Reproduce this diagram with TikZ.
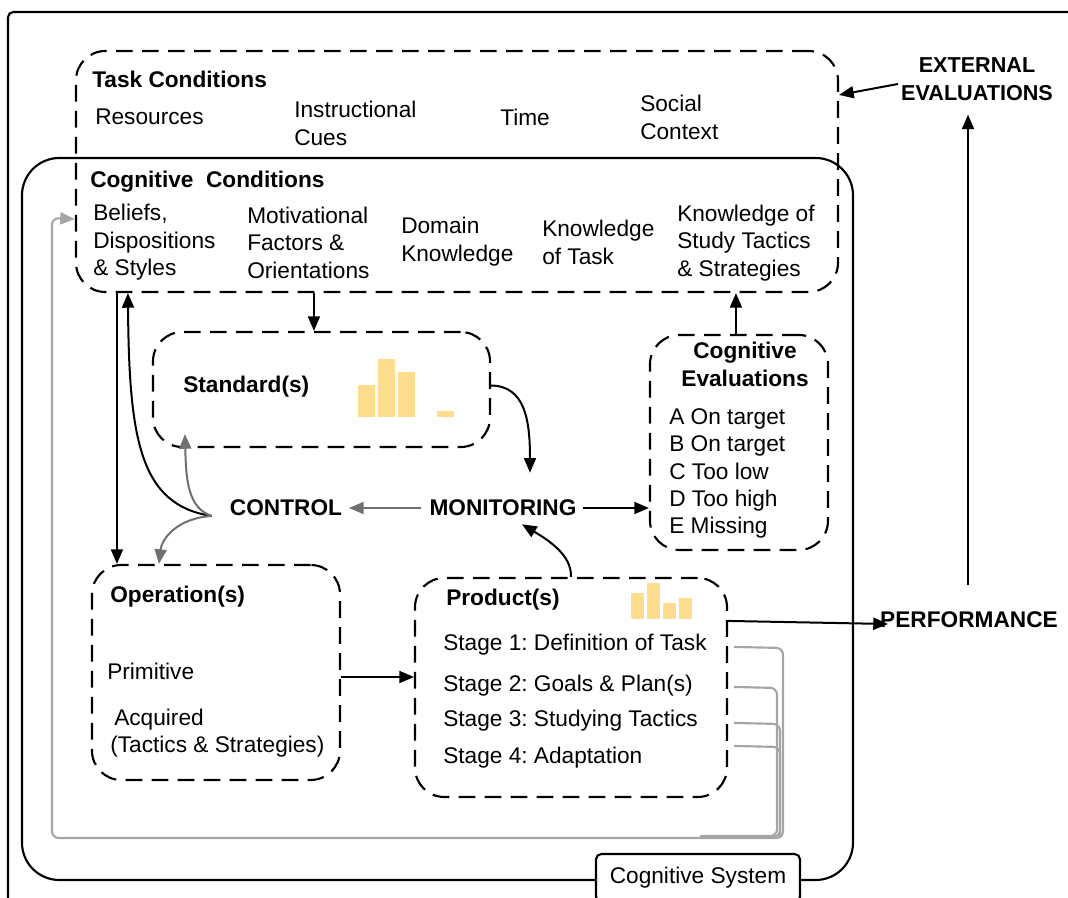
\documentclass[tikz,border=0pt]{standalone}
\usepackage{fontspec}
\setmainfont{Liberation Sans}
\usetikzlibrary{arrows.meta,calc,fit}
\definecolor{barfill}{RGB}{255,221,142}
\definecolor{fbgray}{RGB}{165,165,165}
\definecolor{ctlgray}{RGB}{112,112,112}
\frenchspacing

\begin{document}
\begin{tikzpicture}[x=0.75pt,y=-0.75pt,
  every node/.style={inner sep=0pt, font=\fontsize{17}{20.6}\selectfont},
  lbl/.style={anchor=west, align=left},
  ttl/.style={anchor=west, font=\fontsize{17}{20.6}\selectfont\bfseries},
  hub/.style={font=\fontsize{17}{20.6}\selectfont\bfseries, align=center},
  dbox/.style={draw, line width=1.6pt, dash pattern=on 12.5pt off 7pt, rounded corners=22pt, inner sep=0pt},
  sbox/.style={draw, line width=1.6pt, rounded corners=28pt, inner sep=0pt},
  arr/.style={line width=1.5pt, -{Triangle[length=11pt,width=9pt]}},
  garr/.style={line width=1.5pt, draw=ctlgray, -{Triangle[length=11pt,width=9pt,fill=ctlgray]}},
  fb/.style={line width=1.6pt, draw=fbgray, rounded corners=5pt},
  bar/.style={fill=barfill}
]
\useasboundingbox (0,0) rectangle (1068,898);
\clip (0,0) rectangle (1068,898);

% outer frame (only its left and top edges fall inside the page)
\draw[line width=1.6pt, rounded corners=4pt] (8,910) -- (8,12) -- (1080,12);

% containers
\node[sbox, fit={(22,158) (853,880)}] (cogsys) {};
\node[dbox, fit={(76,51) (838,292)}] (cond) {};
\node[dbox, fit={(153,332) (490,447)}] (stand) {};
\node[dbox, fit={(650,335) (828,550)}] (ceval) {};
\node[dbox, fit={(92,565) (340,780)}] (oper) {};
\node[dbox, fit={(415,578) (727,797)}] (prod) {};
\node[draw, line width=1.6pt, fill=white, rounded corners=4pt,
      minimum width=153pt, minimum height=36pt] (cslbl) at (698,878) {Cognitive System};

% task and cognitive conditions
\node[ttl] (tctitle) at (92,79) {Task Conditions};
\node[lbl] (res) at (95,117) {Resources};
\node[lbl] (cues) at (294,123.5) {Instructional\\Cues};
\node[lbl] (time) at (500,117) {Time};
\node[lbl] (social) at (640,117.5) {Social\\Context};
\node[ttl] (cctitle) at (90,182) {Cognitive~ Conditions};
\node[lbl] (beliefs) at (93,242.5) {Beliefs,\\Dispositions\\\& Styles};
\node[lbl] (motiv) at (247,242.5) {Motivational\\Factors \&\\Orientations};
\node[lbl] (domain) at (401,241.5) {Domain\\Knowledge};
\node[lbl] (ktask) at (542,242.5) {Knowledge\\of Task};
\node[lbl] (kstudy) at (677,243) {Knowledge of\\Study Tactics\\\& Strategies};

% external side
\node[hub, font=\fontsize{16.2}{20.6}\selectfont\bfseries] (ext) at (977,79) {EXTERNAL\\EVALUATIONS};
\node[hub] (perf) at (969,620) {PERFORMANCE};

% standards
\node[ttl] (standt) at (183,387) {Standard(s)};
\fill[bar] (358,385) rectangle (375,417);
\fill[bar] (378,359) rectangle (395,417);
\fill[bar] (398,372) rectangle (415,417);
\fill[bar] (437,411) rectangle (454,417);

% cognitive evaluations
\node[hub] (cevalt) at (745,364.5) {Cognitive\\Evaluations};
\node[lbl] (cevall) at (669,473.5) {A On target\\B On target\\C Too low\\D Too high\\E Missing};

% control loop
\node[hub] (ctrl) at (286,508) {CONTROL};
\node[hub] (mon) at (503,508) {MONITORING};

% operations
\node[ttl] (opert) at (110,597) {Operation(s)};
\node[lbl] (prim) at (107,671) {Primitive};
\node[lbl] (acq) at (110,733) {\hspace*{3pt}Acquired\\(Tactics \& Strategies)};

% products
\node[ttl] (prodt) at (446,600) {Product(s)};
\fill[bar] (631,593) rectangle (644,619);
\fill[bar] (647,583) rectangle (660,619);
\fill[bar] (663,603) rectangle (676,619);
\fill[bar] (679,598) rectangle (692,619);
\node[lbl] (st1) at (443,645) {Stage 1: Definition of Task};
\node[lbl] (st2) at (443,686) {Stage 2: Goals \& Plan(s)};
\node[lbl] (st3) at (443,721) {Stage 3: Studying Tactics};
\node[lbl] (st4) at (443,758) {Stage 4: Adaptation};

% connectors
\draw[arr] ($(ext.west)+(-3,5)$) -- ($(cond.north east)+(0,45)$);
\draw[arr] ($(perf.north)+(-1,-27)$) -- ($(ext.south)+(-9,14)$);
\draw[arr] ($(prod.north east)+(0,44)$) -- ($(perf.west)+(8,4)$);

\draw[arr] ($(cond.south west)+(239,0)$) -- ($(stand.north west)+(162,0)$);
\draw[arr] ($(ceval.north west)+(87,0)$) -- ($(cond.south west)+(661,0)$);
\draw[arr] ($(cond.south west)+(42,0)$) -- ($(oper.north west)+(26,0)$);

\draw[arr] ($(stand.east)+(0,-4)$) .. controls (525,386) and (530,420) .. ($(mon.north)+(27,-27)$);
\draw[garr, shorten <=6pt, shorten >=5pt] (mon.west) -- (ctrl.east);
\draw[arr, shorten <=5pt] (mon.east) -- (mon.east -| ceval.west);
\draw[arr] ($(prod.north west)+(157,0)$) .. controls (572,555) and (548,540) .. ($(mon.south)+(19,8)$);

\coordinate (fork) at ($(ctrl.west)+(-18,8)$);
\draw[arr] (fork) .. controls (140,505) and (129,440) .. ($(cond.south west)+(53,0)$);
\draw[garr] (fork) .. controls (188,508) and (186,480) .. ($(stand.south west)+(33,-14)$);
\draw[garr] (fork) .. controls (178,518) and (162,538) .. ($(oper.north west)+(68,0)$);

\draw[arr] ($(oper.east)+(0,4.5)$) -- ($(oper.east -| prod.west)+(0,4.5)$);

% feedback from the product stages to the beliefs
\draw[fb] ($(prod.north east)+(6,110)$) -- (777,688) -- (777,836) -- (700,836);
\draw[fb] ($(prod.north east)+(6,146)$) -- (780,724) -- (780,837) -- (700,837);
\draw[fb] ($(prod.north east)+(6,169)$) -- (780,747) -- (780,837);
\draw[fb, -{Triangle[length=11pt,width=9pt,fill=fbgray]}]
  ($(prod.north east)+(6,70)$) -- (783,648) -- (783,838) -- (52,838) -- (52,218)
  -- ($(cond.south west)+(0,-74)$);
\end{tikzpicture}
\end{document}
